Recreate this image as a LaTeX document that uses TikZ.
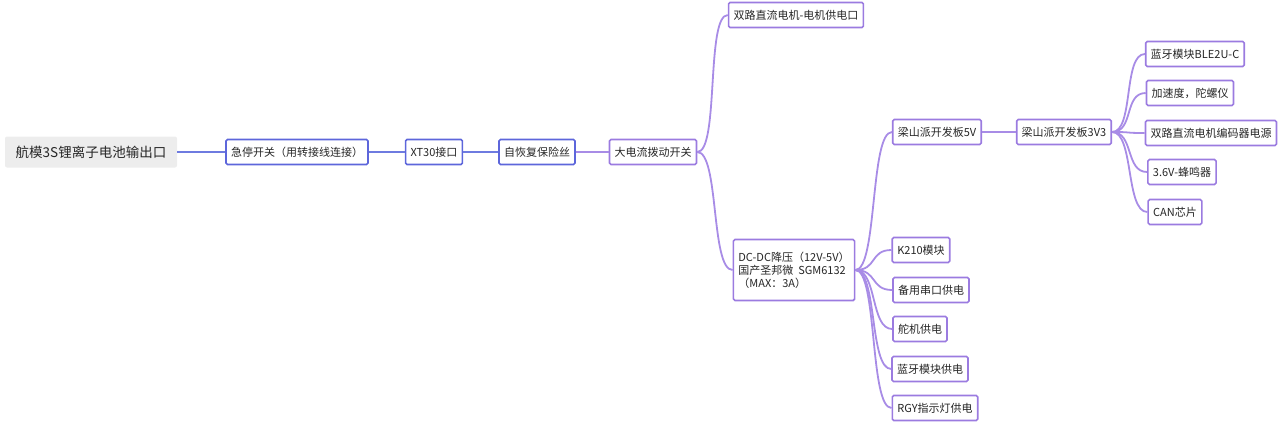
\documentclass[tikz,border=0pt]{standalone}
\usepackage{fontspec}
\setmainfont{Noto Sans CJK SC}
\begin{document}
\begin{tikzpicture}[x=1pt,y=-1pt,
  box/.style={draw=#1,line width=1.6pt,fill=white,rounded corners=1.5pt,minimum height=25pt,inner xsep=5pt,inner ysep=3pt,font=\fontsize{11}{13}\selectfont,text=black!85},
  bb/.style={box=blueB},
  pb/.style={box=purpB},
  bl/.style={draw=blueL,line width=2pt},
  pl/.style={draw=purpL,line width=1.8pt},
  ]
\definecolor{blueB}{HTML}{5D66DB}
\definecolor{blueL}{HTML}{6E7BE0}
\definecolor{purpB}{HTML}{9B7BE0}
\definecolor{purpL}{HTML}{A88CE6}
\useasboundingbox (0,0) rectangle (1280,424);
\newcommand\mmlink[3]{\draw[#1] (#2.east) .. controls +(22,0) and +(-22,0) .. (#3.west);}
\node[fill=black!7,rounded corners=2pt,minimum width=172pt,minimum height=31pt,font=\fontsize{13.5}{16}\selectfont,text=black!85] (root) at (91,152) {航模3S锂离子电池输出口};
\node[bb] (jt) at (297,152) {急停开关（用转接线连接）};
\node[bb] (xt) at (434,152) {XT30接口};
\node[bb] (zh) at (537,152) {自恢复保险丝};
\node[pb] (dd) at (653,152) {大电流拨动开关};
\node[pb] (mot) at (796,15) {双路直流电机-电机供电口};
\node[pb,align=left,minimum height=61pt] (dc) at (794,270) {DC-DC降压（12V-5V）\\国产圣邦微\ \ SGM6132\\（MAX：3A）};
\node[pb] (l5) at (937,132) {梁山派开发板5V};
\node[pb] (l3) at (1064,132) {梁山派开发板3V3};
\node[pb] (ble) at (1195,54) {蓝牙模块BLE2U-C};
\node[pb] (acc) at (1190,93) {加速度，陀螺仪};
\node[pb] (enc) at (1211,133) {双路直流电机编码器电源};
\node[pb] (bz) at (1182,172) {3.6V-蜂鸣器};
\node[pb] (can) at (1175,212) {CAN芯片};
\node[pb] (k210) at (921,250) {K210模块};
\node[pb] (ser) at (931,290) {备用串口供电};
\node[pb] (srv) at (920,329) {舵机供电};
\node[pb] (blp) at (930,369) {蓝牙模块供电};
\node[pb] (rgy) at (935,408) {RGY指示灯供电};
\draw[bl] (root) -- (jt); \draw[bl] (jt) -- (xt); \draw[bl] (xt) -- (zh);
\draw[pl] (zh) -- (dd);
\mmlink{pl}{dd}{mot}\mmlink{pl}{dd}{dc}
\mmlink{pl}{dc}{l5}\mmlink{pl}{dc}{k210}\mmlink{pl}{dc}{ser}\mmlink{pl}{dc}{srv}\mmlink{pl}{dc}{blp}\mmlink{pl}{dc}{rgy}
\draw[pl] (l5) -- (l3);
\mmlink{pl}{l3}{ble}\mmlink{pl}{l3}{acc}\mmlink{pl}{l3}{enc}\mmlink{pl}{l3}{bz}\mmlink{pl}{l3}{can}
\end{tikzpicture}
\end{document}
